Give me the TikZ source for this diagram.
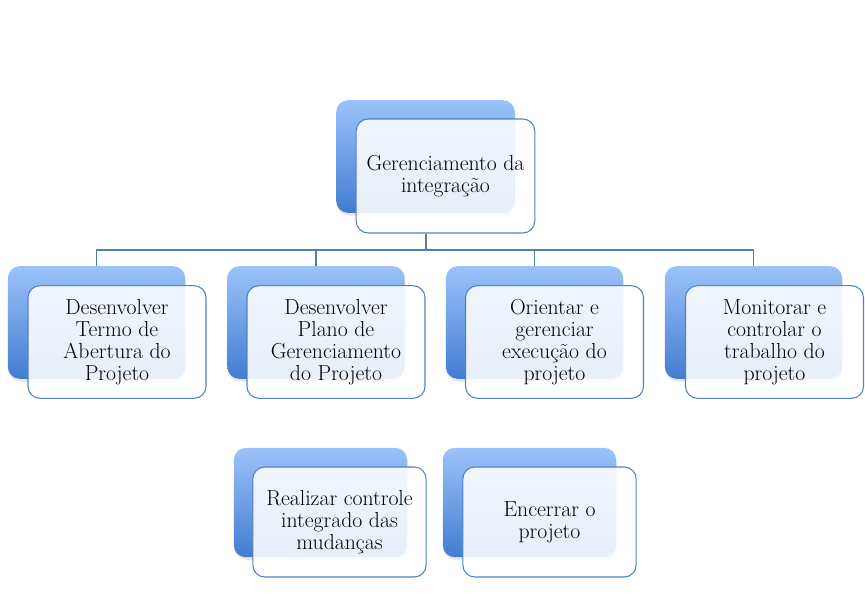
\documentclass[tikz,border=0pt]{standalone}
\usetikzlibrary{shadows}
\definecolor{backtop}{RGB}{155,195,250}
\definecolor{backbot}{RGB}{66,124,210}
\definecolor{frameblue}{RGB}{80,130,195}
\definecolor{linkblue}{RGB}{85,125,180}
\tikzset{
  backbox/.style={rounded corners=9pt, minimum width=133pt, minimum height=84.5pt,
    inner sep=0pt, top color=backtop, bottom color=backbot, draw=none,
    drop shadow={opacity=0.2, shadow xshift=0.5pt, shadow yshift=-2pt}},
  frontbox/.style={rounded corners=9pt, minimum width=133.5pt, minimum height=84.5pt,
    inner sep=0pt, draw=frameblue, line width=0.8pt, fill=white, fill opacity=0.88,
    text opacity=1, align=center, font=\fontsize{16.3}{16.6}\selectfont},
  smallback/.style={backbox, minimum width=130pt, minimum height=82pt},
  smallfront/.style={frontbox, minimum width=130pt, minimum height=82.5pt},
  link/.style={draw=linkblue, line width=0.8pt}
}
\begin{document}
\begin{tikzpicture}[x=0.75pt, y=-0.75pt]
  \useasboundingbox (0,0) rectangle (865,615);
  % top
  \node[backbox, minimum width=134pt] (topb) at (425.5,156.5) {};
  \node[frontbox, minimum width=134pt, minimum height=85.5pt] (topf) at (445.5,176) {Gerenciamento da\\integração};
  % first row, back
  \node[backbox] (b1) at (96.5,322.5) {};
  \node[backbox] (b2) at (316,322.5) {};
  \node[backbox] (b3) at (534.5,322.5) {};
  \node[backbox] (b4) at (753.5,322.5) {};
  % connectors
  \coordinate (bus) at (426,250);
  \draw[link] (topf.south -| bus) -- (bus) -| (b1.north);
  \draw[link] (bus) -| (b2.north);
  \draw[link] (bus) -| (b3.north);
  \draw[link] (bus) -| (b4.north);
  % first row, front
  \node[frontbox] (f1) at (117,342) {Desenvolver\\Termo de\\Abertura do\\Projeto};
  \node[frontbox] (f2) at (336,342) {Desenvolver\\Plano de\\Gerenciamento\\do Projeto};
  \node[frontbox] (f3) at (554.5,342) {Orientar e\\gerenciar\\execução do\\projeto};
  \node[frontbox] (f4) at (774.5,342) {Monitorar e\\controlar o\\trabalho do\\projeto};
  % second row
  \node[smallback] (b5) at (320.5,502.5) {};
  \node[smallback] (b6) at (529.5,502.5) {};
  \node[smallfront] (f5) at (339.5,522) {Realizar controle\\integrado das\\mudanças};
  \node[smallfront] (f6) at (549.5,522) {Encerrar o\\projeto};
\end{tikzpicture}
\end{document}
